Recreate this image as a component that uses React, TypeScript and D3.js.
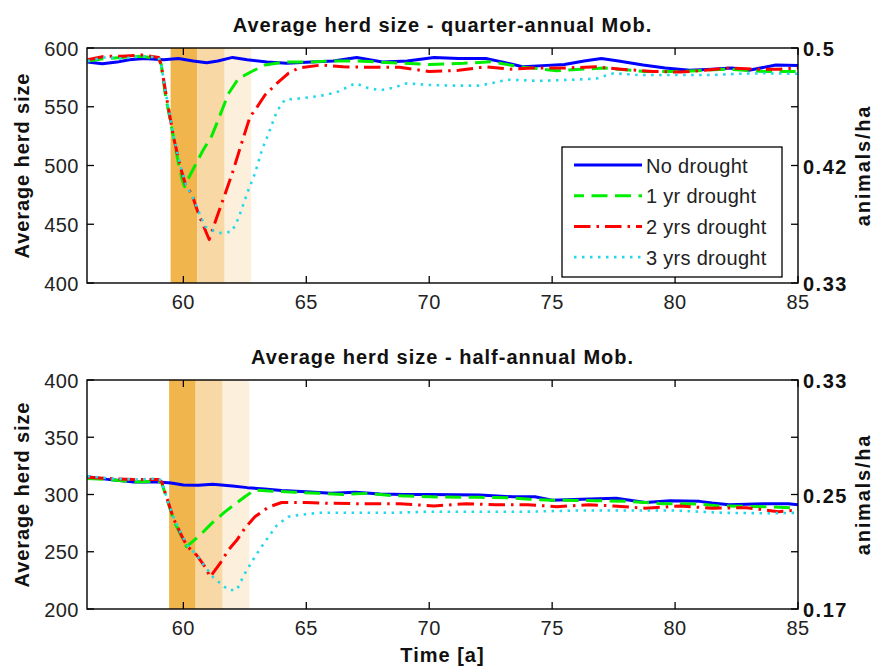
import React from 'react';
import * as d3 from 'd3';

type Pt = [number, number];

// time axis
const xTicks = [60, 65, 70, 75, 80, 85];
const xDomain: [number, number] = [56.08, 85];

// quarter-annual mobility (top panel)
const qNoDrought: Pt[] = [
  [56.1, 588], [56.7, 586.5], [57.3, 588], [57.8, 590], [58.4, 591], [59.2, 590], [59.8, 591],
  [60.4, 589], [60.95, 587.5], [61.4, 589], [62.0, 592], [62.6, 590], [63.4, 588], [64.2, 587],
  [65.2, 588], [66.1, 589], [67.05, 592], [68.1, 588], [69.1, 589], [70.2, 592], [71.2, 591],
  [72.3, 591], [73.0, 588], [73.8, 584], [74.6, 585], [75.5, 586], [76.3, 589], [77.0, 591],
  [77.7, 589], [78.7, 585.5], [79.6, 583], [80.6, 581], [81.5, 582], [82.3, 583], [83.0, 581],
  [84.1, 585.5], [85, 585],
];
const qOneYear: Pt[] = [
  [56.1, 589], [56.8, 591], [57.5, 592], [58.3, 593], [59.0, 591], [59.1, 586], [59.26, 561],
  [59.45, 540], [59.6, 524], [59.8, 502], [59.95, 488], [60.05, 482], [60.3, 493], [60.8, 513],
  [61.15, 525], [61.42, 539], [61.83, 561], [62.24, 574], [62.78, 580], [63.32, 585.5],
  [64.1, 588], [65, 588], [66, 589], [67, 589], [68, 588], [69, 587], [70, 586], [71.4, 587],
  [72.5, 588.3], [73.7, 584], [75.2, 580.7], [77.1, 583], [78.8, 580], [80.2, 580], [82.2, 582],
  [83.6, 580], [85, 580],
];
const qTwoYears: Pt[] = [
  [56.1, 590], [56.8, 593], [57.5, 593], [58.3, 594], [59.0, 592], [59.1, 585], [59.3, 560],
  [59.6, 524], [59.9, 497], [60.1, 483], [60.34, 476], [60.61, 459], [60.81, 449], [61.05, 437],
  [61.36, 456], [61.7, 476], [62.03, 496], [62.37, 519], [62.71, 541.5], [62.91, 547],
  [63.32, 560], [63.86, 571], [64.27, 578.5], [64.7, 583], [65.6, 585.5], [66.5, 584],
  [67.4, 583.6], [68.8, 583.6], [70, 580], [71.2, 581], [72.3, 584], [73.3, 582], [74.2, 583],
  [75.5, 583], [76.8, 584], [77.8, 582], [79.1, 580], [80.2, 579.5], [81.2, 581], [82.2, 583],
  [83.2, 582], [84.2, 582], [85, 583],
];
const qThreeYears: Pt[] = [
  [56.1, 589], [56.8, 592], [57.5, 591], [58.3, 593], [59.0, 592], [59.1, 585], [59.3, 560],
  [59.6, 525], [59.9, 498], [60.1, 484], [60.4, 472], [60.88, 448], [61.43, 442.4],
  [61.97, 443.7], [62.24, 455], [62.64, 479], [62.91, 493], [63.19, 513], [63.46, 527],
  [63.8, 546], [64.13, 556], [64.7, 557], [65.5, 559], [66.2, 562], [67.0, 570], [67.5, 566],
  [68.0, 564], [68.5, 566], [69.1, 570], [70, 568.5], [71, 568], [72.06, 568], [73.2, 573],
  [74.5, 572], [75.8, 573], [76.8, 574], [77.5, 578.5], [78.5, 577], [79.5, 577], [80.5, 577],
  [81.5, 577], [82.5, 578], [83.6, 578.5], [85, 578],
];

// half-annual mobility (bottom panel)
const hNoDrought: Pt[] = [
  [56.1, 315.5], [57, 313], [58, 311], [59, 311], [59.5, 310], [60.0, 308.3], [60.6, 308],
  [61.2, 309], [62.0, 307.4], [62.6, 306], [63.3, 304.8], [64.0, 303.5], [65, 302.5], [66, 301],
  [67, 302], [68, 300.5], [69, 300], [70, 300], [72.06, 299.6], [73.4, 298], [74.3, 298],
  [75, 295], [76.5, 296], [77.6, 296.7], [78.8, 293], [79.8, 294.6], [81.0, 294], [81.5, 292.5],
  [82.2, 291], [83.6, 292], [84.6, 292], [85, 291],
];
const hOneYear: Pt[] = [
  [56.1, 314], [57, 313], [58, 311], [59, 311.5], [59.12, 310], [59.39, 292], [59.6, 277.7],
  [59.93, 263], [60.13, 254.4], [60.68, 264.6], [61.15, 274.8], [61.7, 285], [62.5, 298],
  [62.9, 304], [63.5, 303], [64.5, 302], [65.5, 301], [66.5, 300], [67.5, 301], [68.5, 299],
  [70, 298], [72, 297.5], [73.4, 297], [74.1, 295.8], [75, 295], [76.8, 294.6], [78, 294],
  [79.5, 292], [80.9, 291.7], [81.8, 290], [83.6, 289.4], [85, 288],
];
const hTwoYears: Pt[] = [
  [56.1, 315], [57, 314], [58, 313], [59, 313], [59.12, 311], [59.39, 293], [59.6, 279],
  [59.93, 264], [60.15, 255], [60.54, 247], [60.88, 237], [61.09, 228], [61.5, 240],
  [61.83, 251.5], [62.17, 260], [62.5, 270.5], [62.91, 280.6], [63.46, 289], [64.0, 293],
  [65, 293], [66, 292.3], [67, 292], [68.8, 292], [70.2, 290], [71.5, 292], [72.7, 291],
  [74, 291], [75.2, 289.4], [76.5, 291], [77.5, 290], [78.8, 288], [80.2, 290], [81.5, 288],
  [82.9, 288.5], [84.2, 285], [85, 286.5],
];
const hThreeYears: Pt[] = [
  [56.1, 316], [57, 314], [58, 313], [59, 314], [59.12, 311], [59.39, 293], [59.6, 280],
  [59.93, 265], [60.15, 256], [60.54, 247], [60.88, 237], [61.2, 228], [61.5, 222.4],
  [61.83, 216.6], [62.17, 216.6], [62.5, 231], [62.91, 245.7], [63.32, 258.8], [63.8, 273],
  [64.27, 280.6], [64.67, 282], [65.5, 284], [67, 284], [68.5, 284], [70, 285], [72, 285],
  [74, 285], [76, 286], [78, 286], [80, 286], [82, 284], [83.6, 283.6], [85, 284],
];

// drought-year shading [start, end]
const qBands: [number, number][] = [[59.48, 60.56], [60.56, 61.68], [61.68, 62.76]];
const hBands: [number, number][] = [[59.42, 60.5], [60.5, 61.6], [61.6, 62.68]];
const bandColors = ['#F1B54D', '#F8D9A5', '#FCEFDC'];

const qLeftTicks = [400, 450, 500, 550, 600];
const hLeftTicks = [200, 250, 300, 350, 400];
const qRightLabels = ['0.33', '', '0.42', '', '0.5'];
const hRightLabels = ['0.17', '', '0.25', '', '0.33'];

const seriesNames = ['No drought', '1 yr drought', '2 yrs drought', '3 yrs drought'];
const seriesStyles = [
  { color: '#0000FF', dash: undefined as string | undefined, width: 3 },
  { color: '#00EE00', dash: '16,7.5', width: 3 },
  { color: '#FF0000', dash: '16.5,6,2.5,6', width: 3 },
  { color: '#22D8EA', dash: '2.5,5.5', width: 2.6 },
];

const W = 875;
const H = 666;
const left = 87;
const right = 798;
const tickFont = "'Liberation Sans', Arial, sans-serif";

interface PanelProps {
  id: string;
  top: number;
  bottom: number;
  yDomain: [number, number];
  leftTicks: number[];
  rightLabels: string[];
  series: Pt[][];
  bands: [number, number][];
  title: string;
  legend?: boolean;
  xLabel?: boolean;
}

function Panel({ id, top, bottom, yDomain, leftTicks, rightLabels, series, bands, title, legend, xLabel }: PanelProps) {
  const x = d3.scaleLinear().domain(xDomain).range([left, right]);
  const y = d3.scaleLinear().domain(yDomain).range([bottom, top]);
  const line = d3.line<Pt>().x(d => x(d[0])).y(d => y(d[1]));
  const midY = (top + bottom) / 2;
  const tl = 7;

  return (
    <g>
      <defs>
        <clipPath id={id}>
          <rect x={left} y={top} width={right - left} height={bottom - top} />
        </clipPath>
      </defs>
      <rect x={left} y={top} width={right - left} height={bottom - top} fill="#fff" />
      {bands.map((b, i) => (
        <rect key={i} x={x(b[0])} y={top} width={x(b[1]) - x(b[0])} height={bottom - top} fill={bandColors[i]} />
      ))}
      <g clipPath={`url(#${id})`}>
        {series.map((s, i) => (
          <path key={i} d={line(s) ?? ''} fill="none" stroke={seriesStyles[i].color}
            strokeWidth={seriesStyles[i].width} strokeDasharray={seriesStyles[i].dash} strokeLinejoin="round" />
        ))}
      </g>
      <rect x={left} y={top} width={right - left} height={bottom - top} fill="none" stroke="#000" strokeWidth={1.4} />
      {xTicks.map(t => (
        <g key={t}>
          <line x1={x(t)} x2={x(t)} y1={bottom} y2={bottom - tl} stroke="#000" strokeWidth={1.3} />
          <line x1={x(t)} x2={x(t)} y1={top} y2={top + tl} stroke="#000" strokeWidth={1.3} />
          <text x={x(t)} y={bottom + 26} textAnchor="middle" fontFamily={tickFont} fontSize={20}
            letterSpacing={0.5} fill="#222">{t}</text>
        </g>
      ))}
      {leftTicks.map((t, i) => (
        <g key={t}>
          <line x1={left} x2={left + tl} y1={y(t)} y2={y(t)} stroke="#000" strokeWidth={1.3} />
          <line x1={right} x2={right - tl} y1={y(t)} y2={y(t)} stroke="#000" strokeWidth={1.3} />
          <text x={79} y={y(t) + 7.5} textAnchor="end" fontFamily={tickFont} fontSize={20}
            letterSpacing={0.5} fill="#222">{t}</text>
          {rightLabels[i] && (
            <text x={803} y={y(t) + 8} fontFamily={tickFont} fontSize={20} fontWeight="bold"
              letterSpacing={1.5} fill="#111">{rightLabels[i]}</text>
          )}
        </g>
      ))}
      <text x={(left + right) / 2} y={top - 16} textAnchor="middle" fontFamily={tickFont} fontSize={20}
        fontWeight="bold" letterSpacing={1} fill="#111">{title}</text>
      <text transform={`translate(28.5,${midY}) rotate(-90)`} textAnchor="middle" fontFamily={tickFont}
        fontSize={20} fontWeight="bold" letterSpacing={0.9} fill="#111">Average herd size</text>
      <text transform={`translate(870,${midY}) rotate(-90)`} textAnchor="middle" fontFamily={tickFont}
        fontSize={20} fontWeight="bold" letterSpacing={1.8} fill="#111">animals/ha</text>
      {xLabel && (
        <text x={(left + right) / 2} y={662} textAnchor="middle" fontFamily={tickFont} fontSize={20}
          fontWeight="bold" letterSpacing={1} fill="#111">Time [a]</text>
      )}
      {legend && (
        <g>
          <rect x={562} y={147} width={220} height={130} fill="#fff" stroke="#000" strokeWidth={1.3} />
          {seriesNames.map((n, i) => {
            const ly = 165 + i * 30.7;
            return (
              <g key={n}>
                <line x1={574} x2={642} y1={ly} y2={ly} stroke={seriesStyles[i].color}
                  strokeWidth={seriesStyles[i].width} strokeDasharray={seriesStyles[i].dash}
                  strokeDashoffset={i === 1 ? 6 : 0} />
                <text x={646} y={ly + 7.5} fontFamily={tickFont} fontSize={20} letterSpacing={0.3}
                  fill="#222">{n}</text>
              </g>
            );
          })}
        </g>
      )}
    </g>
  );
}

export default function App() {
  return (
    <div style={{ position: 'absolute', left: 0, top: 0 }}>
      <svg width={W} height={H} style={{ display: 'block' }}>
        <rect width={W} height={H} fill="#fff" />
        <Panel id="clipQ" top={48} bottom={283} yDomain={[400, 600]} leftTicks={qLeftTicks}
          rightLabels={qRightLabels} series={[qNoDrought, qOneYear, qTwoYears, qThreeYears]}
          bands={qBands} title="Average herd size - quarter-annual Mob." legend />
        <Panel id="clipH" top={380} bottom={609} yDomain={[200, 400]} leftTicks={hLeftTicks}
          rightLabels={hRightLabels} series={[hNoDrought, hOneYear, hTwoYears, hThreeYears]}
          bands={hBands} title="Average herd size - half-annual Mob." xLabel />
      </svg>
    </div>
  );
}
